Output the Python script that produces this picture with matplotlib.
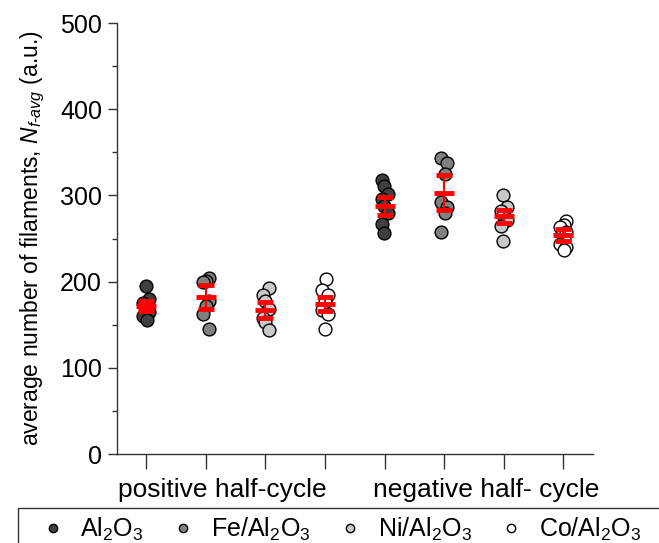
import numpy as np
import matplotlib
matplotlib.use("Agg")
import matplotlib.pyplot as plt
from matplotlib.lines import Line2D
from matplotlib.patches import Rectangle
from matplotlib.transforms import blended_transform_factory

plt.rcParams['font.family'] = ['Liberation Sans', 'DejaVu Sans']
plt.rcParams['mathtext.fontset'] = 'custom'
plt.rcParams['mathtext.rm'] = 'Liberation Sans'
plt.rcParams['mathtext.it'] = 'Liberation Sans:italic'
plt.rcParams['mathtext.bf'] = 'Liberation Sans:bold'

# ---------------- data ----------------
materials = ['Al$_2$O$_3$', 'Fe/Al$_2$O$_3$', 'Ni/Al$_2$O$_3$', 'Co/Al$_2$O$_3$']
half_cycles = ['positive half-cycle', 'negative half- cycle']

al_pos = [195, 180, 175, 170, 165, 160, 155]
fe_pos = [204, 201, 199, 178, 172, 163, 145]
ni_pos = [193, 185, 178, 168, 158, 153, 144]
co_pos = [203, 190, 184, 176, 167, 162, 145]
al_neg = [318, 311, 302, 296, 288, 280, 267, 256]
fe_neg = [343, 338, 325, 292, 286, 280, 257]
ni_neg = [301, 287, 282, 277, 272, 265, 247]
co_neg = [270, 266, 263, 257, 249, 244, 240, 237]

means = [172, 182, 167, 174, 288, 303, 276, 254]
errors = [6, 14, 9, 8, 10.5, 20.5, 7.5, 6.5]

yticks = [0, 100, 200, 300, 400, 500]

# ---------------- plot ----------------
series = [al_pos, fe_pos, ni_pos, co_pos, al_neg, fe_neg, ni_neg, co_neg]
fills = ['#3f3f3f', '#808080', '#c8c8c8', '#ffffff']
positions = np.arange(1, len(series) + 1)

fig = plt.figure(figsize=(6.59, 5.43), dpi=100)
ax = fig.add_axes([0.177, 0.1639, 0.7228, 0.7937])

for i, vals in enumerate(series):
    n = len(vals)
    jit = 0.06 * np.sin(2.1 * np.arange(n) + i)
    ax.scatter(positions[i] + jit, vals, s=85, facecolor=fills[i % 4],
               edgecolor='black', linewidth=1.0, zorder=3)

ax.errorbar(positions, means, yerr=errors, fmt='_', color='red', ecolor='red',
            elinewidth=1.5, capsize=6, capthick=2, markersize=15, mew=3.5,
            zorder=4)

ax.set_xlim(0.5, 8.5)
ax.set_ylim(0, 500)
ax.set_yticks(yticks)
ax.set_yticks([50, 150, 250, 350, 450], minor=True)
ax.set_xticks(positions)
ax.set_xticklabels([])

for s in ['top', 'right']:
    ax.spines[s].set_visible(False)
for s in ['left', 'bottom']:
    ax.spines[s].set_linewidth(1.0)
    ax.spines[s].set_color('#333333')

ax.tick_params(axis='y', which='major', direction='out', length=6.5, width=1,
               labelsize=18, pad=4, color='#333333')
ax.tick_params(axis='y', which='minor', direction='out', length=3.5, width=1,
               color='#333333')
ax.tick_params(axis='x', which='major', direction='out', length=11, width=1,
               color='#333333')

trans = blended_transform_factory(ax.transData, ax.transAxes)
ax.text(2.27, -0.0998, half_cycles[0], transform=trans, ha='center',
        va='baseline', fontsize=19)
ax.text(6.70, -0.0998, half_cycles[1], transform=trans, ha='center',
        va='baseline', fontsize=19)

ax.set_ylabel(r'average number of filaments, $N_{f\text{-}avg}$ (a.u.)',
              fontsize=16.5)
ax.yaxis.set_label_coords(-0.147, 0.5)

# legend (frame drawn separately so it runs past the figure edge as in the reference)
handles = [Line2D([], [], ls='none', marker='o', markersize=6,
                  markerfacecolor=c, markeredgecolor='black',
                  markeredgewidth=1) for c in fills]
leg = fig.legend(handles, materials, loc='upper left',
                 bbox_to_anchor=(18 / 659, 1 - 508 / 543), ncol=4,
                 frameon=False, fontsize=18, borderpad=0.3, handlelength=2.2,
                 handletextpad=0.0, columnspacing=0.48, borderaxespad=0)
fig.patches.append(Rectangle((18 / 659, -0.05), 1.0, (543 - 508) / 543 + 0.05,
                             transform=fig.transFigure, fill=False,
                             edgecolor='#333333', linewidth=1.0))

fig.savefig('out.png', dpi=100)
